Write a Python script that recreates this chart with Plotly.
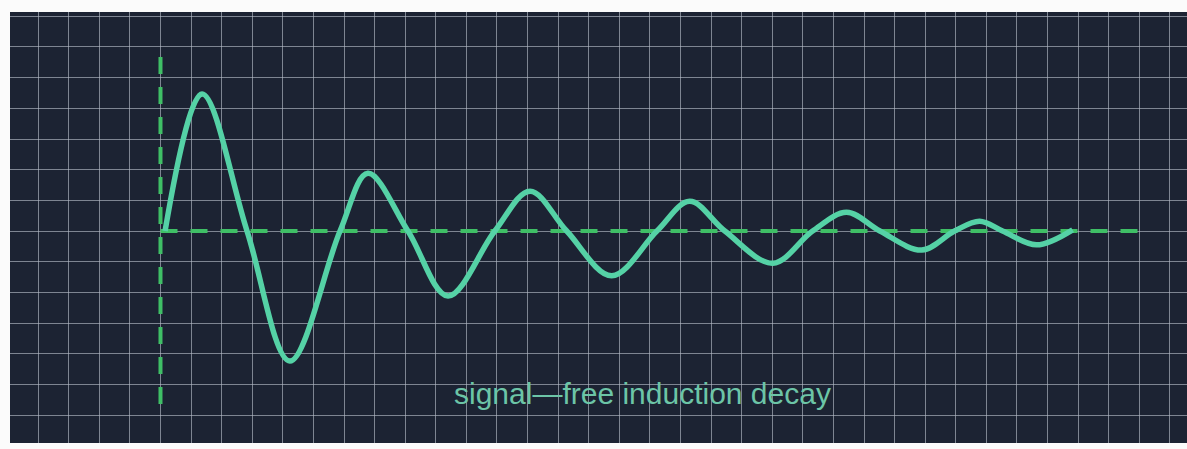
import plotly.graph_objects as go

# Signal (free induction decay): x in grid divisions from the
# vertical dashed axis, y in grid divisions from the dashed baseline
# (start, then alternating extrema and baseline crossings)
signal_x = [0.15, 1.36, 2.83, 4.23, 5.87, 6.78, 8.09, 9.40, 10.93, 12.08, 13.28,
            14.75, 16.23, 17.30, 18.45, 20.02, 21.32, 22.43, 23.52, 24.89, 25.96,
            26.78, 27.53, 28.64, 29.82]
signal_y = [0.0, 4.47, 0.0, -4.24, 0.0, 1.88, 0.0, -2.12, 0.0, 1.30, 0.0,
            -1.46, 0.0, 0.97, 0.0, -1.05, 0.0, 0.61, 0.0, -0.62, 0.0,
            0.32, 0.0, -0.45, 0.04]

# dashed reference axes
baseline_x = [0.0, 32.3]
baseline_y = [0.0, 0.0]
vaxis_x = [0.0, 0.0]
vaxis_y = [5.67, -5.84]

label_text = "signal\u2014free induction decay"
label_pos = (15.77, -5.28)

BG = "#1c2333"
CURVE = "#55d2a6"
DASH = "#3fbf66"
GRID = "rgba(180,186,198,0.65)"
TEXT = "#6cc5a7"

fig = go.Figure()
fig.add_trace(go.Scatter(x=baseline_x, y=baseline_y, mode="lines",
                         line=dict(color=DASH, width=4, dash="17px,13px"),
                         hoverinfo="skip", showlegend=False))
fig.add_trace(go.Scatter(x=vaxis_x, y=vaxis_y, mode="lines",
                         line=dict(color=DASH, width=4, dash="17px,13px"),
                         hoverinfo="skip", showlegend=False))
fig.add_trace(go.Scatter(x=signal_x, y=signal_y, mode="lines",
                         line=dict(color=CURVE, width=5.5, shape="spline",
                                   smoothing=1.0, simplify=False),
                         showlegend=False))

fig.add_annotation(x=label_pos[0], y=label_pos[1], text=label_text, showarrow=False,
                   xref="x", yref="y",
                   font=dict(family="Liberation Sans, Arial, sans-serif", size=30, color=TEXT))

fig.update_xaxes(range=[-4.92, 33.56], tick0=0, dtick=1, showgrid=True, gridcolor=GRID,
                 gridwidth=1, zeroline=False, showticklabels=False, ticks="",
                 showline=False, fixedrange=True)
fig.update_yaxes(range=[-6.91, 7.14], tick0=0, dtick=1, showgrid=True, gridcolor=GRID,
                 gridwidth=1, zeroline=False, showticklabels=False, ticks="",
                 showline=False, fixedrange=True)

fig.update_layout(width=1187, height=449,
                  margin=dict(l=10, r=0, t=12, b=6),
                  paper_bgcolor="#fbfbfb", plot_bgcolor=BG,
                  showlegend=False)

fig.write_html("out.html", config={"displayModeBar": False},
               post_script="document.body.style.margin='0';"
                           "document.body.style.overflow='hidden';")
